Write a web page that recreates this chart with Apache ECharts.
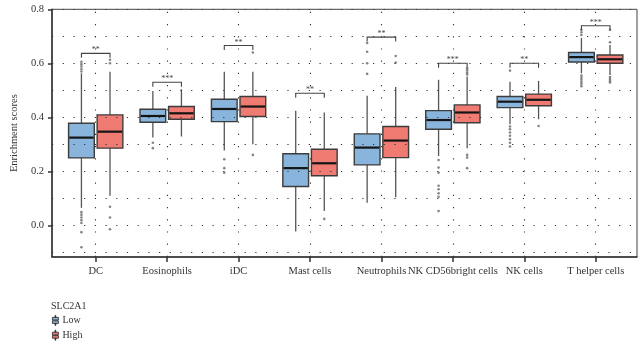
<!DOCTYPE html>
<html><head><meta charset="utf-8">
<script src="https://cdn.jsdelivr.net/npm/echarts@6/dist/echarts.min.js"></script>
<style>html,body{margin:0;padding:0;background:#fff}#c{width:641px;height:347px}</style>
</head><body><div id="c"></div>
<script>
const categories = ['DC','Eosinophils','iDC','Mast cells','Neutrophils','NK CD56bright cells','NK cells','T helper cells'];
// [lower whisker, Q1, median, Q3, upper whisker]
const lowBox = [
  [0.066,0.251,0.326,0.379,0.564],
  [0.326,0.383,0.406,0.431,0.499],
  [0.278,0.385,0.432,0.468,0.570],
  [-0.022,0.145,0.213,0.266,0.425],
  [0.085,0.225,0.289,0.340,0.481],
  [0.258,0.357,0.391,0.426,0.540],
  [0.375,0.437,0.459,0.478,0.533],
  [0.564,0.606,0.624,0.641,0.695]
];
const highBox = [
  [0.111,0.287,0.348,0.410,0.570],
  [0.330,0.394,0.416,0.441,0.505],
  [0.301,0.404,0.441,0.478,0.570],
  [0.054,0.185,0.231,0.283,0.419],
  [0.105,0.252,0.315,0.367,0.513],
  [0.287,0.381,0.419,0.447,0.552],
  [0.394,0.444,0.466,0.487,0.536],
  [0.558,0.601,0.616,0.632,0.669]
];
const lowOutliers = [
  [0.607,0.598,0.589,0.580,0.571,0.050,0.040,0.030,0.020,0.010,-0.024,-0.080],
  [0.307,0.287],
  [0.246,0.213,0.196],
  [],
  [0.562,0.601,0.644,0.676],
  [0.243,0.215,0.196,0.148,0.135,0.120,0.107,0.054],
  [0.574,0.367,0.357,0.345,0.333,0.320,0.307,0.293],
  [0.706,0.716,0.725,0.556,0.548,0.540,0.532,0.524,0.516]
];
const highOutliers = [
  [0.614,0.601,0.070,0.030,-0.013],
  [],
  [0.641,0.262],
  [0.025],
  [0.604,0.628],
  [0.560,0.567,0.575,0.583,0.262,0.252,0.213],
  [0.369],
  [0.679,0.725,0.550,0.543,0.536,0.530]
];
const sigLabels = ['**','***','**','**','**','***','**','***'];
const sigHeights = [0.638,0.531,0.667,0.490,0.698,0.601,0.601,0.740];
const yTickLabels = [0.0,0.2,0.4,0.6,0.8];
const gridYs = [-0.1,0,0.1,0.2,0.3,0.4,0.5,0.6,0.7,0.8];
const groups = ['Low','High'];

const FONT = 'Liberation Serif';
const OFFSET = 0.2, BOX_W = 0.36;
const COLORS = {Low:'#89b4dc', High:'#ef7b72'};
const xTicks = categories.map((c,i)=>i+1);
const ICON = 'path://M2.6,0H3.4V2H2.6Z M0,2H6V4.6H0Z M0,5.4H6V8H0Z M2.6,8H3.4V10H2.6Z';

function boxSeries(name, boxes, off) {
  return {
    type:'custom', name, z:3,
    itemStyle:{color:COLORS[name]},
    data: boxes.map((b,i)=>[i+1, ...b]),
    encode:{x:0, y:[1,2,3,4,5]},
    renderItem(params, api) {
      const x = api.value(0) + off;
      const p = [1,2,3,4,5].map(k=>api.coord([x, api.value(k)]));
      const half = api.size([BOX_W,0])[0]/2;
      const cx = p[0][0];
      const ws = {stroke:'#555', lineWidth:1.3};
      return {type:'group', children:[
        {type:'line', shape:{x1:cx,y1:p[0][1],x2:cx,y2:p[1][1]}, style:ws},
        {type:'line', shape:{x1:cx,y1:p[3][1],x2:cx,y2:p[4][1]}, style:ws},
        {type:'rect', shape:{x:cx-half,y:p[3][1],width:2*half,height:p[1][1]-p[3][1]},
          style:{fill:COLORS[name], stroke:'#3c3c3c', lineWidth:1.4}},
        {type:'line', shape:{x1:cx-half+0.7,y1:p[2][1],x2:cx+half-0.7,y2:p[2][1]}, style:{stroke:'#151515', lineWidth:2.2}}
      ]};
    }
  };
}
function outlierSeries(name, outs, off) {
  const data = [];
  outs.forEach((arr,i)=>arr.forEach(v=>data.push([i+1+off, v])));
  return {type:'scatter', name:name+' outliers', z:4, symbolSize:2.6,
    itemStyle:{color:'#666'}, data, silent:true};
}

const option = {
  animation:false,
  title:{text:'SLC2A1', left:51, top:301, padding:0,
    textStyle:{fontFamily:FONT, fontSize:10, fontWeight:'normal', color:'#333'}},
  legend:{orient:'vertical', left:52, top:315, padding:0, itemWidth:6, itemHeight:10, itemGap:4,
    itemStyle:{borderColor:'#222', borderWidth:0.8},
    textStyle:{fontFamily:FONT, fontSize:10, color:'#333', padding:[0,0,0,-1]},
    data: groups.map(g=>({name:g, icon:ICON}))},
  grid:{left:52, right:4, top:9.3, bottom:90, show:true, borderColor:'#444', borderWidth:1,
    containLabel:false, outerBoundsMode:'none'},
  xAxis:{type:'value', min:0.388, max:8.578,
    axisLine:{show:true, onZero:false, lineStyle:{color:'#333', width:1.5}},
    axisTick:{show:true, customValues:xTicks, length:5, lineStyle:{color:'#333', width:1.5}},
    axisLabel:{customValues:xTicks, formatter:v=>categories[Math.round(v)-1]||'',
      fontFamily:FONT, fontSize:10.5, color:'#333', margin:9},
    splitLine:{show:false}},
  yAxis:{type:'value', min:-0.116, max:0.801,
    name:'Enrichment scores', nameLocation:'middle', nameGap:32,
    nameTextStyle:{fontFamily:FONT, fontSize:10.5, color:'#333'},
    axisLine:{show:true, onZero:false, lineStyle:{color:'#333', width:1.5}},
    axisTick:{show:true, customValues:yTickLabels, length:4, lineStyle:{color:'#333', width:1.5}},
    axisLabel:{customValues:yTickLabels, formatter:v=>v.toFixed(1),
      fontFamily:FONT, fontSize:10.5, color:'#333', margin:8},
    splitLine:{show:false}},
  series:[
    {type:'scatter', name:'grid', data:[], silent:true, z:1,
      markLine:{silent:true, symbol:'none', label:{show:false}, animation:false,
        lineStyle:{type:[1.2,9.5], color:'#333', width:1.1},
        data:[...gridYs.map(v=>({yAxis:v})),
              ...xTicks.map(v=>({xAxis:v, lineStyle:{type:[1.2,11], color:'#333', width:1.1}}))]}},
    boxSeries('Low', lowBox, -OFFSET),
    boxSeries('High', highBox, OFFSET),
    outlierSeries('Low', lowOutliers, -OFFSET),
    outlierSeries('High', highOutliers, OFFSET),
    {type:'custom', name:'sig', z:5, silent:true,
      data: sigHeights.map((h,i)=>[i+1, h]),
      encode:{x:0, y:1},
      renderItem(params, api) {
        const x = api.value(0), y = api.value(1);
        const l = api.coord([x-OFFSET, y]), r = api.coord([x+OFFSET, y]);
        return {type:'group', children:[
          {type:'polyline', shape:{points:[[l[0],l[1]+4.5],[l[0],l[1]],[r[0],r[1]],[r[0],r[1]+4.5]]},
            style:{stroke:'#444', lineWidth:1.1, fill:null}},
          {type:'text', style:{text:sigLabels[params.dataIndex], x:(l[0]+r[0])/2, y:l[1]+1,
            align:'center', verticalAlign:'bottom', font:'8px "Liberation Serif"', fill:'#444'}}
        ]};
      }}
  ]
};
const chart = echarts.init(document.getElementById('c'), null, {renderer:'canvas'});
chart.setOption(option);
</script>
</body></html>
